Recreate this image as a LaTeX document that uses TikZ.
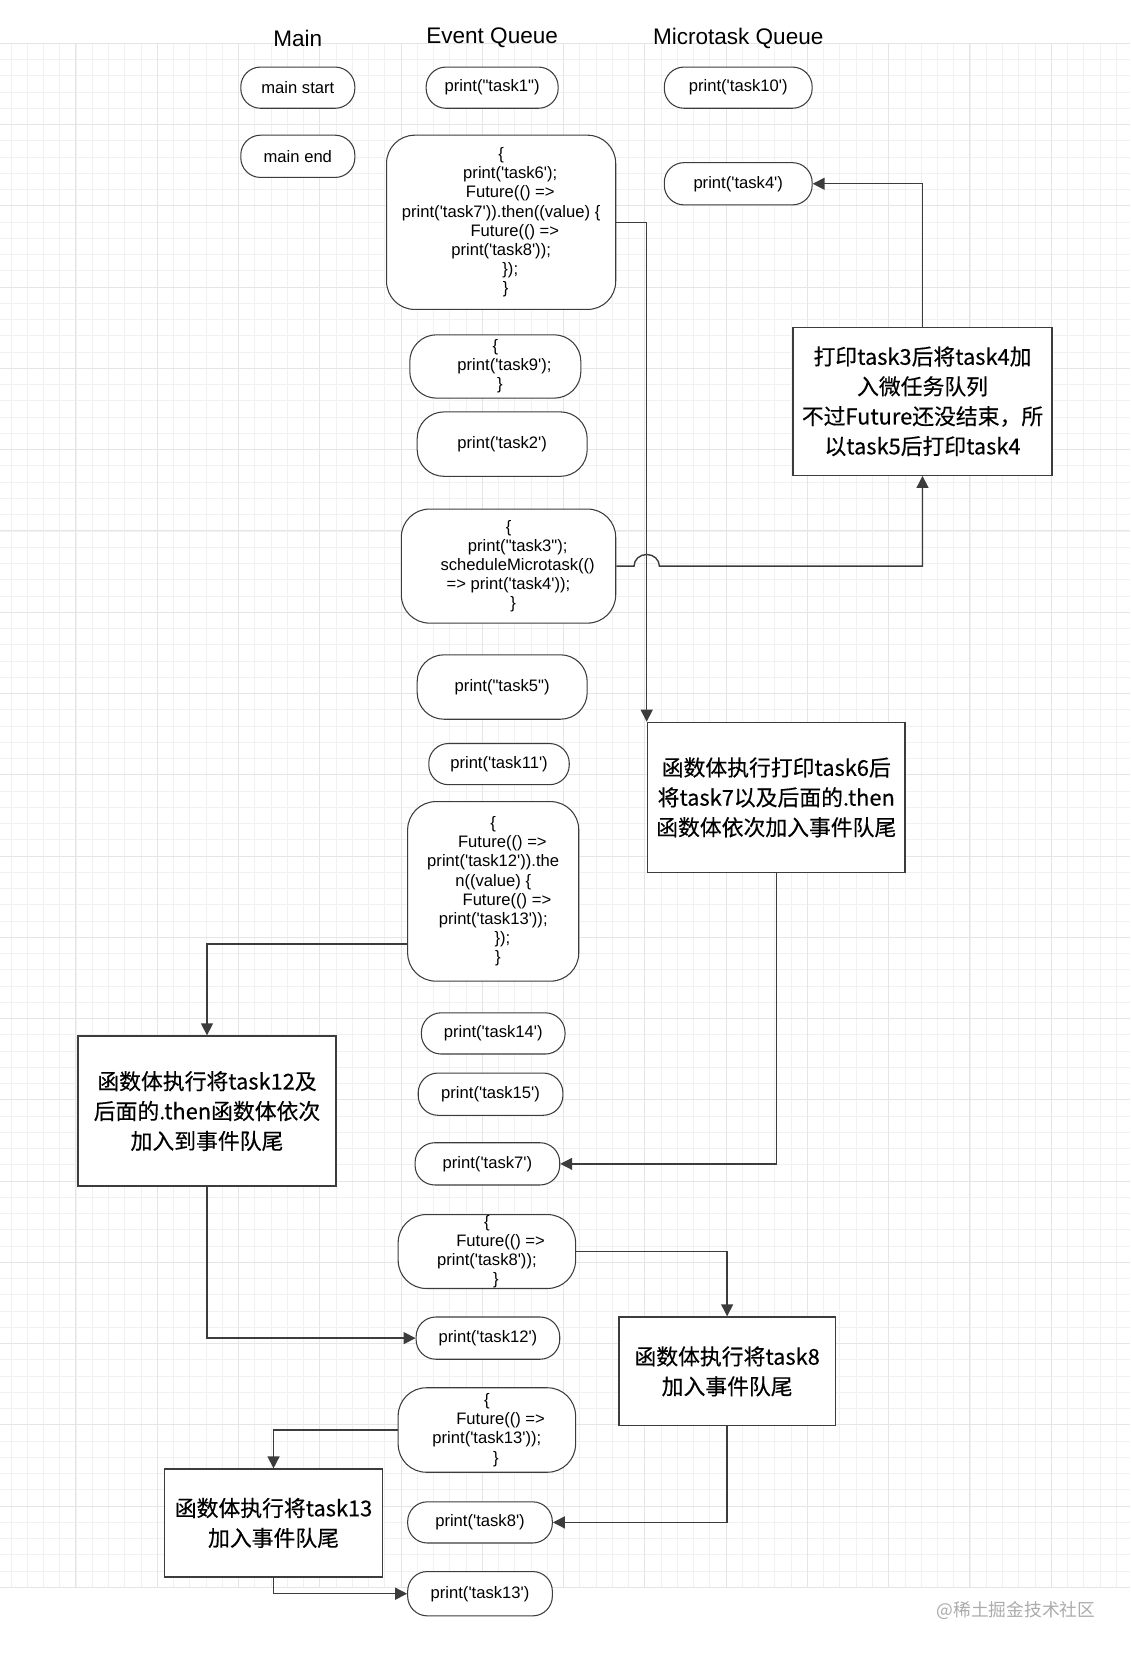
\documentclass[tikz,border=0pt]{standalone}
\usepackage{fontspec}
\setmainfont{Liberation Sans}[Ligatures=TeXOff]
\newfontfamily\cjk{Noto Sans CJK SC}[FakeBold=0.35]
\newfontfamily\cjkwm{Noto Sans CJK SC}
\usetikzlibrary{arrows.meta}
\definecolor{gridminor}{HTML}{F1F1F1}
\definecolor{gridmajor}{HTML}{E5E5E5}
\definecolor{ink}{HTML}{3C3C3C}
\definecolor{wm}{HTML}{ABABAB}
\begin{document}
\begin{tikzpicture}[x=0.75pt,y=-0.75pt,
  sz/.style 2 args={minimum width=#1*0.75pt, minimum height=#2*0.75pt},
  pill/.style={draw=ink, line width=0.75pt, fill=white, rounded corners=14pt,
    align=center, inner sep=0pt, font=\fontsize{11.8}{13.6}\selectfont},
  pillL/.style={pill, rounded corners=19pt},
  codebox/.style={pill, rounded corners=20pt},
  note/.style={draw=ink, line width=1pt, fill=white, align=center, inner sep=0pt,
    font=\cjk\fontsize{15.5}{21.2}\selectfont},
  head/.style={font=\fontsize{16}{18}\selectfont, inner sep=0pt},
  conn/.style={draw=ink, line width=1pt, -{Triangle[length=8.5pt,width=8.5pt]}},
]
\useasboundingbox (0,0) rectangle (1070,1568);
% background grid
\foreach \i in {0,...,95}{
  \pgfmathsetmacro\yy{41+\i*15.39}
  \draw[gridminor, line width=0.6pt] (0,\yy) -- (1070,\yy);
}
\foreach \i in {0,...,70}{
  \pgfmathsetmacro\xx{-5+\i*15.39}
  \draw[gridminor, line width=0.6pt] (\xx,41) -- (\xx,1503);
}
\foreach \i in {0,...,19}{
  \pgfmathsetmacro\yy{41+\i*76.95}
  \draw[gridmajor, line width=0.7pt] (0,\yy) -- (1070,\yy);
}
\foreach \i in {0,...,14}{
  \pgfmathsetmacro\xx{-5+\i*76.95}
  \draw[gridmajor, line width=0.7pt] (\xx,41) -- (\xx,1503);
}

% headers
\node[head] (hmain) at (282,36) {Main};
\node[head] (hevent) at (466,36) {Event Queue};
\node[head] (hmicro) at (699,36) {Microtask Queue};

% Main column
\node[pill, sz={108}{39}] (ms) at (282,83) {main start};
\node[pill, sz={108}{40}] (me) at (282,148) {main end};

% Microtask column
\node[pill, sz={140}{39}] (t10) at (699,83) {print('task10')};
\node[pill, sz={140}{40}] (t4) at (699,174) {print('task4')};

% Event queue column
\node[pill, sz={125}{39}] (t1) at (466,83) {print("task1")};
\node[codebox, sz={217}{165}] (t6) at (474.5,210.5)
  {\{\\\hspace*{1.1em}print('task6');\\\hspace*{1.1em}Future(() =>\\print('task7')).then((value) \{\\\hspace*{1.65em}Future(() =>\\print('task8'));\\\hspace*{1.1em}\});\\\hspace*{0.55em}\}};
\node[pillL, sz={162}{60}] (t9) at (469,347)
  {\{\\\hspace*{1.1em}print('task9');\\\hspace*{0.55em}\}};
\node[pillL, sz={161}{61}] (t2) at (475.5,420.5) {print('task2')};
\node[codebox, sz={203}{108}] (t3) at (481.5,536)
  {\{\\\hspace*{1.1em}print("task3");\\\hspace*{1.1em}scheduleMicrotask(()\\=> print('task4'));\\\hspace*{0.55em}\}};
\node[pillL, sz={161}{61}] (t5) at (475.5,650.5) {print("task5")};
\node[pill, sz={133}{39}] (t11) at (472.5,723.5) {print('task11')};
\node[codebox, sz={162}{170}] (t12b) at (467,844)
  {\{\\\hspace*{1.1em}Future(() =>\\print('task12')).the\\n((value) \{\\\hspace*{1.65em}Future(() =>\\print('task13'));\\\hspace*{1.1em}\});\\\hspace*{0.55em}\}};
\node[pill, sz={136}{39}] (t14) at (467,978.5) {print('task14')};
\node[pill, sz={137}{40}] (t15) at (464.5,1036) {print('task15')};
\node[pill, sz={137}{40}] (t7) at (461.5,1102) {print('task7')};
\node[codebox, sz={168}{70}] (t8f) at (461,1185)
  {\{\\\hspace*{1.65em}Future(() =>\\print('task8'));\\\hspace*{1.1em}\}};
\node[pill, sz={136}{40}] (t12p) at (462,1267) {print('task12')};
\node[codebox, sz={168}{80}] (t13f) at (461,1354)
  {\{\\\hspace*{1.65em}Future(() =>\\print('task13'));\\\hspace*{1.1em}\}};
\node[pill, sz={137}{39}] (t8p) at (454.5,1441.5) {print('task8')};
\node[pill, sz={137}{42}] (t13p) at (454.5,1509) {print('task13')};

% explanation boxes
\node[note, sz={245}{140}] (r1) at (873.5,380)
  {打印task3后将task4加\\入微任务队列\\不过Future还没结束，所\\以task5后打印task4};
\node[note, sz={244}{142}] (r2) at (735,755)
  {函数体执行打印task6后\\将task7以及后面的.then\\函数体依次加入事件队尾};
\node[note, sz={244}{142}] (r3) at (196,1052)
  {函数体执行将task12及\\后面的.then函数体依次\\加入到事件队尾};
\node[note, sz={205}{103}] (r4) at (688.5,1298.5)
  {函数体执行将task8\\加入事件队尾};
\node[note, sz={206}{102}] (r5) at (259,1442)
  {函数体执行将task13\\加入事件队尾};

% watermark
\node[font=\cjkwm\fontsize{12.6}{14}\selectfont, text=wm, inner sep=0pt] (wmk) at (962,1525) {@稀土掘金技术社区};

% connectors
\draw[conn] (t3.east) -- ([xshift=-9pt]t3.east -| r2.north west)
  arc[start angle=180, end angle=360, x radius=12, y radius=11] -| (r1.south);
\draw[conn] (r1.north) |- (t4.east);
\draw[conn] (t6.east) -| (r2.north west);
\draw[conn] (r2.south) |- (t7.east);
\draw[conn] ([yshift=-37.5pt]t12b.west) -| (r3.north);
\draw[conn] (r3.south) |- (t12p.west);
\draw[conn] (t8f.east) -| (r4.north);
\draw[conn] (r4.south) |- (t8p.east);
\draw[conn] (t13f.west) -| (r5.north);
\draw[conn] (r5.south) |- (t13p.west);
\end{tikzpicture}
\end{document}
